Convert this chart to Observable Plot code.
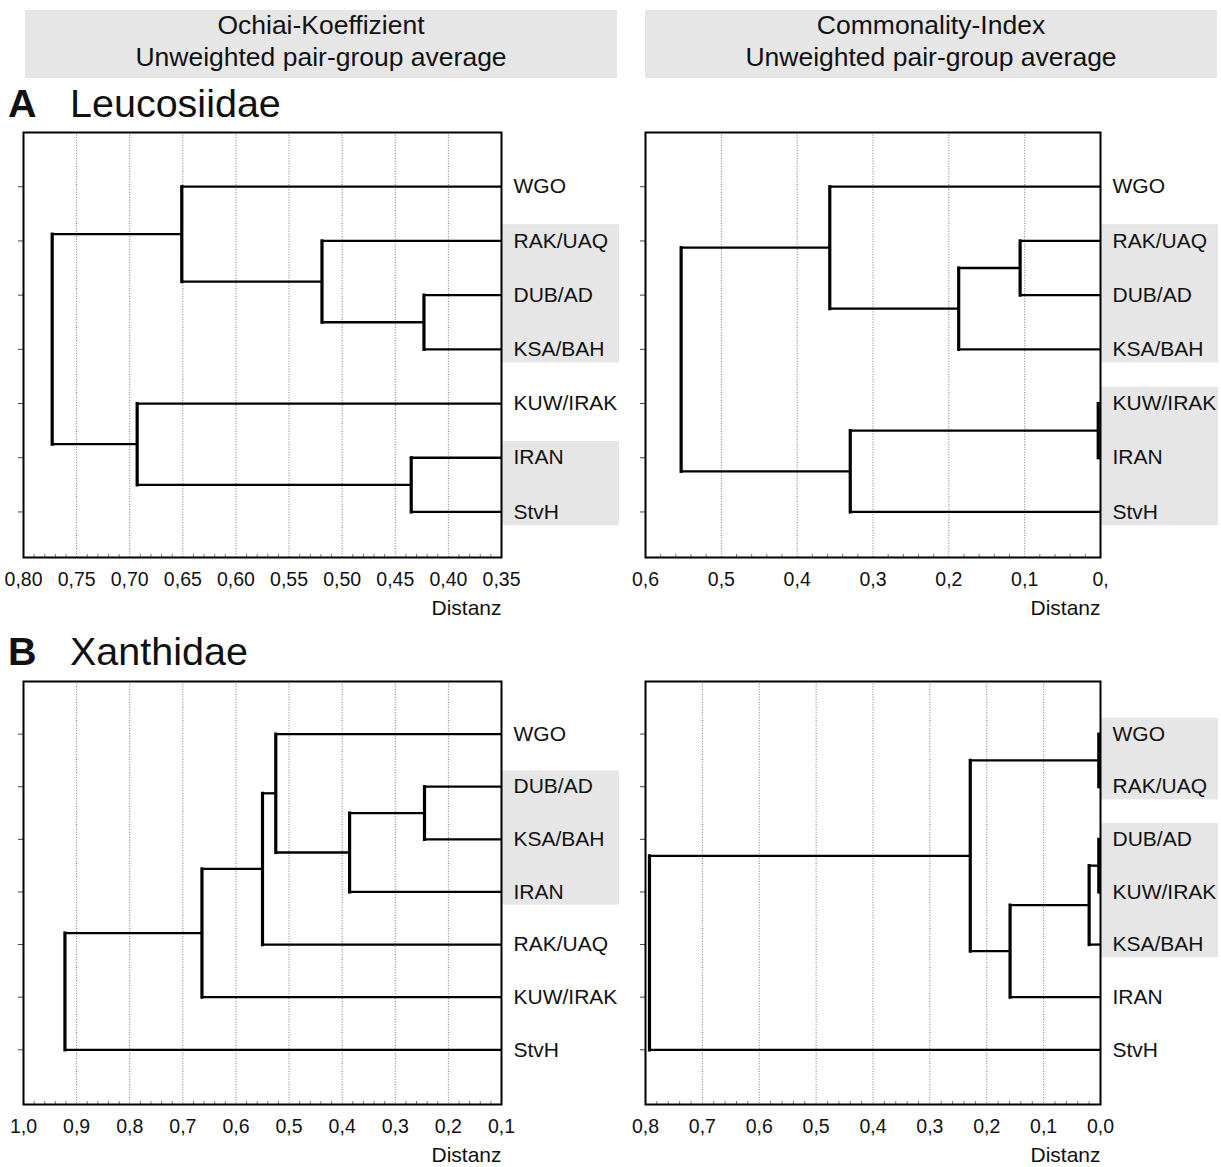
<!DOCTYPE html>
<html>
<head>
<meta charset="utf-8">
<script src="https://cdn.jsdelivr.net/npm/d3@7"></script>
<script src="https://cdn.jsdelivr.net/npm/@observablehq/plot@0.6"></script>
<style>
  html, body { margin: 0; padding: 0; background: #fff; }
  #fig { position: relative; width: 1221px; height: 1167px; font-family: "Liberation Sans", Arial, Helvetica, sans-serif; color: #111; }
  .hdr { position: absolute; top: 10px; height: 68px; background: #e6e6e6; text-align: center; font-size: 26.5px; line-height: 32px; }
  .ttl { position: absolute; font-size: 39.5px; line-height: 40px; }
  .ttl b { position: absolute; left: 0; }
  .ttl span { position: absolute; left: 62px; white-space: nowrap; }
  .panel { position: absolute; }
</style>
</head>
<body>
<div id="fig">
  <div class="hdr" style="left:25px;width:592px;"><div style="margin-top:-1px">Ochiai-Koeffizient<br>Unweighted pair-group average</div></div>
  <div class="hdr" style="left:645px;width:572px;"><div style="margin-top:-1px">Commonality-Index<br>Unweighted pair-group average</div></div>
  <div class="ttl" style="left:8px;top:83px;"><b>A</b><span>Leucosiidae</span></div>
  <div class="ttl" style="left:8px;top:631px;"><b>B</b><span>Xanthidae</span></div>
</div>
<script>
// ---------- DATA ----------
// A: Leucosiidae, Ochiai
const leavesA1 = ["WGO", "RAK/UAQ", "DUB/AD", "KSA/BAH", "KUW/IRAK", "IRAN", "StvH"];
const pairsA1 = [["DUB/AD", "KSA/BAH"], ["RAK/UAQ", "m0"], ["WGO", "m1"], ["IRAN", "StvH"], ["KUW/IRAK", "m3"], ["m2", "m4"]];
const heightsA1 = [0.423, 0.519, 0.651, 0.435, 0.693, 0.773];
const ticksA1 = [0.80, 0.75, 0.70, 0.65, 0.60, 0.55, 0.50, 0.45, 0.40, 0.35];
const tickLabelsA1 = ["0,80", "0,75", "0,70", "0,65", "0,60", "0,55", "0,50", "0,45", "0,40", "0,35"];
const groupsA1 = [["RAK/UAQ", "KSA/BAH"], ["IRAN", "StvH"]];

// A: Leucosiidae, Commonality
const leavesA2 = ["WGO", "RAK/UAQ", "DUB/AD", "KSA/BAH", "KUW/IRAK", "IRAN", "StvH"];
const pairsA2 = [["RAK/UAQ", "DUB/AD"], ["m0", "KSA/BAH"], ["WGO", "m1"], ["KUW/IRAK", "IRAN"], ["m3", "StvH"], ["m2", "m4"]];
const heightsA2 = [0.106, 0.187, 0.357, 0.003, 0.330, 0.553];
const ticksA2 = [0.6, 0.5, 0.4, 0.3, 0.2, 0.1, 0.0];
const tickLabelsA2 = ["0,6", "0,5", "0,4", "0,3", "0,2", "0,1", "0,"];
const groupsA2 = [["RAK/UAQ", "KSA/BAH"], ["KUW/IRAK", "StvH"]];

// B: Xanthidae, Ochiai
const leavesB1 = ["WGO", "DUB/AD", "KSA/BAH", "IRAN", "RAK/UAQ", "KUW/IRAK", "StvH"];
const pairsB1 = [["DUB/AD", "KSA/BAH"], ["m0", "IRAN"], ["WGO", "m1"], ["m2", "RAK/UAQ"], ["m3", "KUW/IRAK"], ["m4", "StvH"]];
const heightsB1 = [0.245, 0.386, 0.525, 0.550, 0.664, 0.922];
const ticksB1 = [1.0, 0.9, 0.8, 0.7, 0.6, 0.5, 0.4, 0.3, 0.2, 0.1];
const tickLabelsB1 = ["1,0", "0,9", "0,8", "0,7", "0,6", "0,5", "0,4", "0,3", "0,2", "0,1"];
const groupsB1 = [["DUB/AD", "IRAN"]];

// B: Xanthidae, Commonality
const leavesB2 = ["WGO", "RAK/UAQ", "DUB/AD", "KUW/IRAK", "KSA/BAH", "IRAN", "StvH"];
const pairsB2 = [["WGO", "RAK/UAQ"], ["DUB/AD", "KUW/IRAK"], ["m1", "KSA/BAH"], ["m2", "IRAN"], ["m0", "m3"], ["m4", "StvH"]];
const heightsB2 = [0.003, 0.003, 0.020, 0.159, 0.229, 0.793];
const ticksB2 = [0.8, 0.7, 0.6, 0.5, 0.4, 0.3, 0.2, 0.1, 0.0];
const tickLabelsB2 = ["0,8", "0,7", "0,6", "0,5", "0,4", "0,3", "0,2", "0,1", "0,0"];
const groupsB2 = [["WGO", "RAK/UAQ"], ["DUB/AD", "KSA/BAH"]];

const axisTitle = "Distanz";

// ---------- DRAWING ----------
const FONT = '"Liberation Sans", Arial, Helvetica, sans-serif';

function dendrogram({leaves, pairs, heights, ticks, tickLabels, groups, minorStep, yMax,
                     left, top, width, height, marginLeft, marginRight, marginTop, marginBottom}) {
  const nodes = new Map();
  leaves.forEach((l, i) => nodes.set(l, {x: 0, y: i + 1}));
  const hSeg = [], vSeg = [];
  pairs.forEach(([a, b], k) => {
    const h = heights[k], A = nodes.get(a), B = nodes.get(b);
    hSeg.push({x1: A.x, x2: h, y1: A.y, y2: A.y});
    hSeg.push({x1: B.x, x2: h, y1: B.y, y2: B.y});
    vSeg.push({x1: h, x2: h, y1: A.y, y2: B.y});
    nodes.set("m" + k, {x: h, y: (A.y + B.y) / 2});
  });
  const x0 = ticks[0], x1 = ticks[ticks.length - 1];
  const lo = Math.min(x0, x1), hi = Math.max(x0, x1);
  const minor = d3.range(Math.round((hi - lo) / minorStep) + 1)
    .map(i => lo + i * minorStep)
    .filter(v => ticks.every(t => Math.abs(t - v) > 1e-9));
  const grid = ticks.slice(1, -1);
  const frameH = height - marginTop - marginBottom;
  const labelMap = new Map(ticks.map((t, i) => [t, tickLabels[i]]));
  const boxes = groups.map(([a, b]) => ({y1: leaves.indexOf(a) + 1 - 0.3, y2: leaves.indexOf(b) + 1 + 0.25}));
  const labelData = leaves.map((l, i) => ({name: l, y: i + 1}));

  const chart = Plot.plot({
    width, height, marginLeft, marginRight, marginTop, marginBottom,
    style: {fontFamily: FONT, background: "transparent", color: "#111", overflow: "visible"},
    x: {domain: [x0, x1]},
    y: {domain: [0, yMax], reverse: true},
    marks: [
      Plot.rect(boxes, {x1: () => x1, x2: () => x1, y1: "y1", y2: "y2", insetRight: -118, fill: "#e6e6e6"}),
      Plot.ruleX(grid, {stroke: "#6a6a6a", strokeWidth: 0.9, strokeDasharray: "1,1.6"}),
      Plot.tickX(minor, {x: d => d, insetTop: frameH - 3, stroke: "#777", strokeWidth: 1}),
      Plot.axisY({ticks: leaves.map((l, i) => i + 1), tickSize: 5, tickFormat: () => "", label: null, stroke: "#444"}),
      Plot.axisX({ticks, tickSize: 0, tickPadding: 15, tickFormat: d => labelMap.get(d), label: null, fontSize: 19.5}),
      Plot.link(hSeg, {x1: "x1", x2: "x2", y1: "y1", y2: "y2", stroke: "#000", strokeWidth: 2.3, clip: true}),
      Plot.link(vSeg, {x1: "x1", x2: "x2", y1: "y1", y2: "y2", stroke: "#000", strokeWidth: 3.2, strokeLinecap: "square", clip: true}),
      Plot.frame({stroke: "#000", strokeWidth: 2}),
      Plot.text(labelData, {x: () => x1, y: "y", text: "name", dx: 12, textAnchor: "start", fontSize: 21, fill: "#111"}),
      Plot.text([axisTitle], {frameAnchor: "bottom-right", dy: 57, textAnchor: "end", fontSize: 21, fill: "#111"})
    ]
  });
  const wrap = document.createElement("div");
  wrap.className = "panel";
  wrap.style.left = left + "px";
  wrap.style.top = top + "px";
  wrap.appendChild(chart);
  document.getElementById("fig").appendChild(wrap);
}

dendrogram({leaves: leavesA1, pairs: pairsA1, heights: heightsA1, ticks: ticksA1, tickLabels: tickLabelsA1,
  groups: groupsA1, minorStep: 0.01, yMax: 7.84,
  left: 0, top: 122, width: 620, height: 500, marginLeft: 23, marginRight: 119, marginTop: 10, marginBottom: 65});
dendrogram({leaves: leavesA2, pairs: pairsA2, heights: heightsA2, ticks: ticksA2, tickLabels: tickLabelsA2,
  groups: groupsA2, minorStep: 0.02, yMax: 7.84,
  left: 610, top: 122, width: 611, height: 500, marginLeft: 35, marginRight: 121, marginTop: 10, marginBottom: 65});
dendrogram({leaves: leavesB1, pairs: pairsB1, heights: heightsB1, ticks: ticksB1, tickLabels: tickLabelsB1,
  groups: groupsB1, minorStep: 0.02, yMax: 8.04,
  left: 0, top: 671, width: 620, height: 496, marginLeft: 23, marginRight: 119, marginTop: 10, marginBottom: 63});
dendrogram({leaves: leavesB2, pairs: pairsB2, heights: heightsB2, ticks: ticksB2, tickLabels: tickLabelsB2,
  groups: groupsB2, minorStep: 0.02, yMax: 8.04,
  left: 610, top: 671, width: 611, height: 496, marginLeft: 35, marginRight: 121, marginTop: 10, marginBottom: 63});
</script>
</body>
</html>
